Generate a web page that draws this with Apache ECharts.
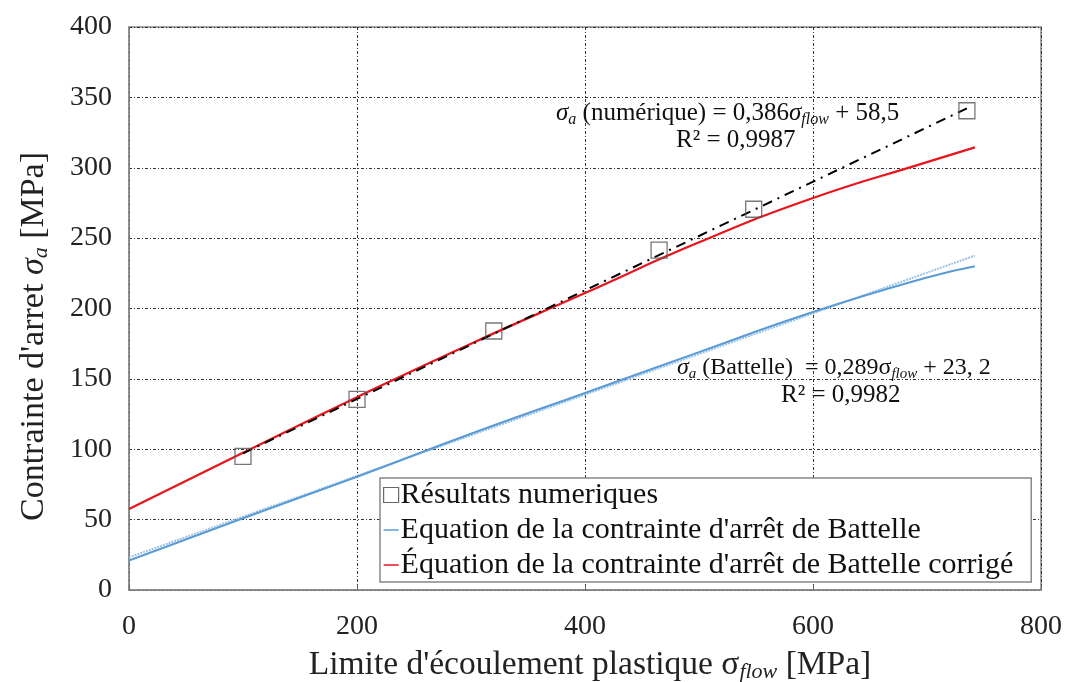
<!DOCTYPE html>
<html><head><meta charset="utf-8">
<script src="https://cdn.jsdelivr.net/npm/echarts@6/dist/echarts.min.js"></script>
<style>html,body{margin:0;padding:0;background:#fff}#c{width:1065px;height:682px}</style>
</head><body><div id="c"></div>
<script>
// Data
const pointsX = [100, 200, 320, 465, 548, 735];
const pointsY = [95, 135.5, 184, 241.5, 270.5, 340.5];
const battelleX = [0, 100, 200, 300, 400, 500, 600, 700, 742];
const battelleY = [21, 51, 80.5, 111, 140, 169, 197.5, 222, 230];
const correctedX = [0, 100, 200, 300, 400, 500, 600, 700, 742];
const correctedY = [57.5, 97.5, 137, 175, 211, 247, 278.5, 304, 314.5];
const trendNumX = [100, 735];
const trendNumY = [97.1, 342.2];
const trendBatX = [0, 742];
const trendBatY = [23.2, 237.6];
const xTicks = [0, 200, 400, 600, 800];
const yTicks = [0, 50, 100, 150, 200, 250, 300, 350, 400];

const names = ['Résultats numeriques', "Equation de la contrainte d'arrêt de Battelle", "Équation de la contrainte d'arrêt de Battelle corrigé"];
const zip = (a, b) => a.map((v, i) => [v, b[i]]);
const F = '"Liberation Serif", "Times New Roman", serif';
const lineIcon = 'path://M0,0H20V2H0Z';

const chart = echarts.init(document.getElementById('c'));
const gridStyle = { color: '#333', width: 1, type: [3, 2, 1, 2] };
chart.setOption({
  animation: false,
  textStyle: { fontFamily: F },
  grid: { left: 129, right: 24, top: 27, bottom: 92, containLabel: false, outerBoundsMode: 'none',
    show: true, borderColor: '#888', borderWidth: 1.5 },
  xAxis: {
    type: 'value', min: xTicks[0], max: xTicks[xTicks.length - 1], interval: 200,
    axisLine: { show: true, lineStyle: { color: '#888', width: 1.5 } },
    axisTick: { show: true, inside: true, length: 5, lineStyle: { color: '#666' } },
    axisLabel: { fontFamily: F, fontSize: 28, color: '#222', margin: 23 },
    splitLine: { show: true, lineStyle: gridStyle },
    name: '{a|Limite d\'écoulement plastique σ}{s|flow}{a| [MPa]}',
    nameLocation: 'middle', nameGap: 57,
    nameTextStyle: { padding: [0, 0, 0, 10], rich: {
      a: { fontFamily: F, fontSize: 33.5, color: '#222' },
      s: { fontFamily: F, fontSize: 22, fontStyle: 'italic', color: '#222', padding: [14, 0, 0, 0] }
    } }
  },
  yAxis: {
    type: 'value', min: yTicks[0], max: yTicks[yTicks.length - 1], interval: 50,
    axisLine: { show: true, lineStyle: { color: '#888', width: 1.5 } },
    axisTick: { show: false },
    axisLabel: { fontFamily: F, fontSize: 28, color: '#222', margin: 17 },
    splitLine: { show: true, lineStyle: gridStyle },
    name: '{a|Contrainte d\'arret }{i|σ}{s|a}{a| [MPa]}',
    nameLocation: 'middle', nameGap: 77, nameRotate: 90,
    nameTextStyle: { padding: [0, 56, 0, 0], rich: {
      a: { fontFamily: F, fontSize: 34, color: '#222' },
      i: { fontFamily: F, fontSize: 34, fontStyle: 'italic', color: '#222' },
      s: { fontFamily: F, fontSize: 22, fontStyle: 'italic', color: '#222', padding: [14, 0, 0, 0] }
    } }
  },
  legend: {
    data: [
      { name: names[0], icon: 'rect', itemStyle: { color: '#fff', borderColor: '#444', borderWidth: 1.2 } },
      { name: names[1], icon: lineIcon, itemStyle: { color: '#5b9bd5' } },
      { name: names[2], icon: lineIcon, itemStyle: { color: '#e8141e' } }
    ],
    orient: 'vertical', left: 380, top: 478,
    backgroundColor: '#fff', borderColor: '#888', borderWidth: 1.5,
    padding: [2, 18, 2, 3], itemGap: 5, itemWidth: 15, itemHeight: 15,
    textStyle: { fontFamily: F, fontSize: 30, lineHeight: 30, color: '#111', padding: [0, 0, 0, -3] }
  },
  series: [
    { name: 'trendBat', type: 'line', data: zip(trendBatX, trendBatY), symbol: 'none', z: 2,
      lineStyle: { color: '#9cc3e6', width: 2, type: [2, 1] } },
    { name: names[1], type: 'line', data: zip(battelleX, battelleY), symbol: 'none', smooth: true, z: 3,
      lineStyle: { color: '#5b9bd5', width: 2 }, itemStyle: { color: '#5b9bd5' } },
    { name: names[2], type: 'line', data: zip(correctedX, correctedY), symbol: 'none', smooth: true, z: 3,
      lineStyle: { color: '#e8141e', width: 2.2 }, itemStyle: { color: '#e8141e' } },
    { name: 'trendNum', type: 'line', data: zip(trendNumX, trendNumY), symbol: 'none', z: 4,
      lineStyle: { color: '#000', width: 2, type: [10, 6, 2, 6] } },
    { name: names[0], type: 'scatter', data: zip(pointsX, pointsY), symbol: 'rect', symbolSize: 16, z: 5,
      itemStyle: { color: 'rgba(255,255,255,0)', borderColor: '#555', borderWidth: 1.3 } }
  ],
  graphic: [
    { type: 'text', left: 556, top: 101, z: 10, style: {
      text: '{i|σ}{s|a}{t| (numérique) = 0,386}{i|σ}{s|flow}{t| + 58,5}',
      rich: {
        t: { fontFamily: F, fontSize: 25, fill: '#111' },
        i: { fontFamily: F, fontSize: 25, fontStyle: 'italic', fill: '#111' },
        s: { fontFamily: F, fontSize: 16, fontStyle: 'italic', fill: '#111', padding: [12, 0, 0, 0] }
      } } },
    { type: 'text', left: 676, top: 128, z: 10, style: { text: 'R² = 0,9987', font: '25px ' + F, fill: '#111' } },
    { type: 'text', left: 677, top: 356, z: 10, style: {
      text: '{i|σ}{s|a}{t| (Battelle)  = 0,289σ}{s|flow}{t| + 23, 2}',
      rich: {
        t: { fontFamily: F, fontSize: 24, fill: '#111' },
        i: { fontFamily: F, fontSize: 24, fontStyle: 'italic', fill: '#111' },
        s: { fontFamily: F, fontSize: 15, fontStyle: 'italic', fill: '#111', padding: [12, 0, 0, 0] }
      } } },
    { type: 'text', left: 781, top: 383, z: 10, style: { text: 'R² = 0,9982', font: '25px ' + F, fill: '#111' } }
  ]
});
</script></body></html>
